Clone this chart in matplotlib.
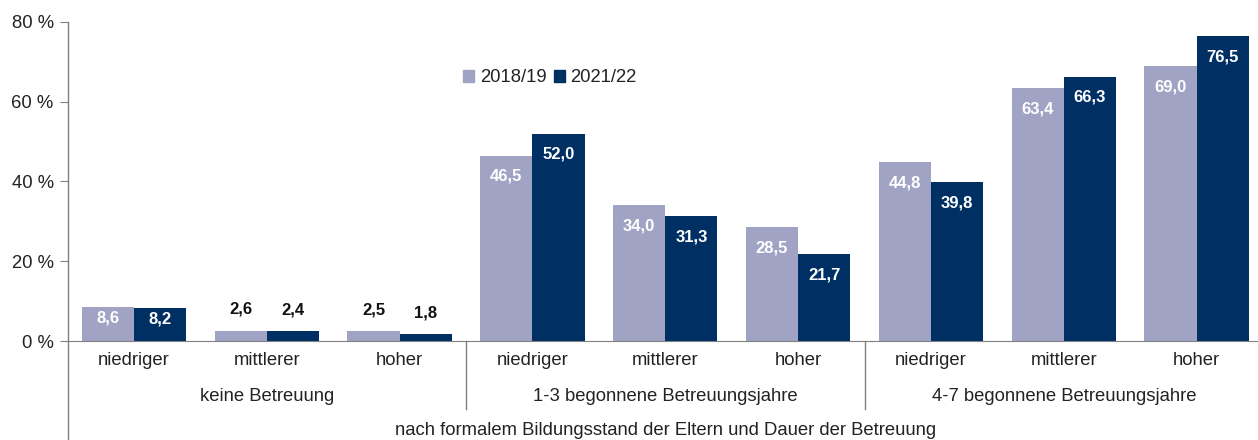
import matplotlib
matplotlib.use("Agg")
import matplotlib.pyplot as plt
import numpy as np
from matplotlib.lines import Line2D
from matplotlib.patches import Patch
from matplotlib.transforms import blended_transform_factory

categories = ["niedriger", "mittlerer", "hoher"] * 3
groups = ["keine Betreuung", "1-3 begonnene Betreuungsjahre", "4-7 begonnene Betreuungsjahre"]
series_names = ["2018/19", "2021/22"]
v2018 = [8.6, 2.6, 2.5, 46.5, 34.0, 28.5, 44.8, 63.4, 69.0]
v2021 = [8.2, 2.4, 1.8, 52.0, 31.3, 21.7, 39.8, 66.3, 76.5]
yticks = [0, 20, 40, 60, 80]
xlabel = "nach formalem Bildungsstand der Eltern und Dauer der Betreuung"

light = "#A0A3C4"
dark = "#003063"
gray = "#808080"

plt.rcParams['font.family'] = ['Liberation Sans', 'DejaVu Sans']

W, H = 1258, 440
fig = plt.figure(figsize=(W / 100, H / 100), dpi=100)
x0, x1 = 67.6, 1263.0
ytop, ybot = 22.0, 341.0
ax = fig.add_axes([x0 / W, (H - ybot) / H, (x1 - x0) / W, (ybot - ytop) / H])

n = len(categories)
x = np.arange(n)
bw = 0.393
ax.bar(x - bw / 2, v2018, bw, color=light, label=series_names[0], zorder=2)
ax.bar(x + bw / 2, v2021, bw, color=dark, label=series_names[1], zorder=2)

ax.set_xlim(-0.5, n - 0.5)
ax.set_ylim(0, 80)
ax.set_yticks(yticks)
ax.set_yticklabels([f"{t} %" for t in yticks], fontsize=13.3, color="#222222")
ax.set_xticks([])
for s in ["top", "right", "left"]:
    ax.spines[s].set_visible(False)
ax.spines["bottom"].set_color(gray)
ax.tick_params(axis="y", length=6, color=gray, pad=4)

px = 1.0 / (ybot - ytop)
tr = blended_transform_factory(ax.transData, ax.transAxes)
# left axis line extends to the bottom of the figure
ax.add_line(Line2D([0, 0], [-(H - ybot) * px, 1], transform=ax.transAxes,
                   color=gray, lw=1, clip_on=False))

# value labels
def label(xpos, v, inside_color):
    txt = f"{v:.1f}".replace(".", ",")
    if v < 5:
        ax.text(xpos, v + 5.3, txt, ha="center", va="center", fontsize=12,
                fontweight="bold", color="#111111", family=['Liberation Sans Narrow', 'Liberation Sans'])
    elif v < 12:
        ax.text(xpos, v - 2.8, txt, ha="center", va="center", fontsize=12,
                fontweight="bold", color=inside_color, family=['Liberation Sans Narrow', 'Liberation Sans'])
    else:
        ax.text(xpos, v - 5.2, txt, ha="center", va="center", fontsize=12,
                fontweight="bold", color=inside_color, family=['Liberation Sans Narrow', 'Liberation Sans'])

for i in range(n):
    label(x[i] - bw / 2, v2018[i], "white")
    label(x[i] + bw / 2, v2021[i], "white")

# category labels
for i, c in enumerate(categories):
    ax.text(x[i], -19 * px, c, transform=tr, ha="center", va="center",
            fontsize=13.3, color="#222222", clip_on=False)
for g, name in enumerate(groups):
    ax.text(3 * g + 1, -55 * px, name, transform=tr, ha="center", va="center",
            fontsize=13.3, color="#222222", clip_on=False)
for b in [2.5, 5.5]:
    ax.add_line(Line2D([b, b], [0, -68 * px], transform=tr, color=gray, lw=1, clip_on=False))
ax.text(0.5, -89 * px, xlabel, transform=ax.transAxes, ha="center", va="center",
        fontsize=13.3, color="#222222", clip_on=False)

handles = [Patch(color=light), Patch(color=dark)]
leg = ax.legend(handles, series_names, loc="center", bbox_to_anchor=(550 / W, (H - 78) / H),
                bbox_transform=fig.transFigure, frameon=False, ncol=2, fontsize=13.3,
                handlelength=0.6, handleheight=0.6, handletextpad=0.3, columnspacing=0.4)
for t in leg.get_texts():
    t.set_color("#222222")

fig.savefig("out.png", dpi=100)
